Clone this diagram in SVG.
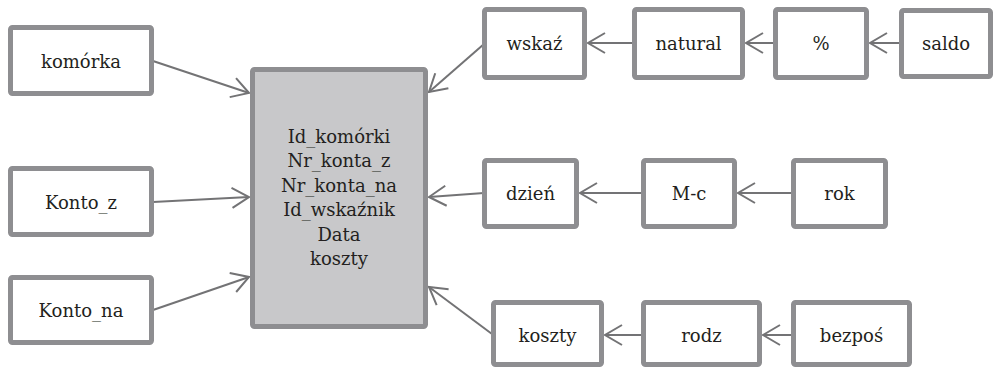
<svg xmlns="http://www.w3.org/2000/svg" width="994" height="369" viewBox="0 0 994 369">
  <defs>
    <style>
      .box { fill: #ffffff; stroke: #8e8e91; stroke-width: 5; }
      .main { fill: #c8c8ca; stroke: #8e8e91; stroke-width: 5; }
      .lbl { font-family: 'DejaVu Serif', 'Liberation Serif', serif; font-size: 18px; fill: #231f20; text-anchor: middle; }
      .edge { fill: none; stroke: #737375; stroke-width: 2; marker-end: url(#head); }
    </style>
    <!-- open chevron arrowhead -->
    <marker id="head" markerUnits="userSpaceOnUse" markerWidth="20" markerHeight="22" viewBox="-18 -11 20 22" refX="0" refY="0" orient="auto" overflow="visible">
      <path d="M-17,-10 L0,0 L-17,10" fill="none" stroke="#737375" stroke-width="2"/>
    </marker>
  </defs>

  <rect width="994" height="369" fill="#ffffff"/>

  <g id="connectors">
    <line class="edge" x1="153" y1="61" x2="249" y2="93"/>
    <line class="edge" x1="153" y1="202" x2="249" y2="197"/>
    <line class="edge" x1="153" y1="310" x2="249" y2="277"/>
    <line class="edge" x1="484" y1="44" x2="429" y2="92"/>
    <line class="edge" x1="484" y1="193" x2="429" y2="197"/>
    <line class="edge" x1="492" y1="334" x2="429" y2="287"/>
    <line class="edge" x1="632" y1="43" x2="588" y2="43"/>
    <line class="edge" x1="773" y1="43" x2="746" y2="43"/>
    <line class="edge" x1="899" y1="43" x2="870" y2="43"/>
    <line class="edge" x1="641" y1="193" x2="580" y2="193"/>
    <line class="edge" x1="791" y1="193" x2="738" y2="193"/>
    <line class="edge" x1="641" y1="335" x2="605" y2="335"/>
    <line class="edge" x1="791" y1="335" x2="763" y2="335"/>
  </g>

  <g id="node-main">
    <rect class="main" x="252.5" y="69.5" width="173" height="257" rx="2"/>
    <text class="lbl" x="339" y="143">Id_komórki</text>
    <text class="lbl" x="339" y="167.4">Nr_konta_z</text>
    <text class="lbl" x="339" y="191.8">Nr_konta_na</text>
    <text class="lbl" x="339" y="216.2">Id_wskaźnik</text>
    <text class="lbl" x="339" y="240.6">Data</text>
    <text class="lbl" x="339" y="265">koszty</text>
  </g>

  <g id="node-komorka">
    <rect class="box" x="10.5" y="27.5" width="141" height="66" rx="2"/>
    <text class="lbl" x="81" y="68">komórka</text>
  </g>
  <g id="node-konto-z">
    <rect class="box" x="10.5" y="168.5" width="141" height="66" rx="2"/>
    <text class="lbl" x="81" y="209">Konto_z</text>
  </g>
  <g id="node-konto-na">
    <rect class="box" x="10.5" y="277.5" width="141" height="65" rx="2"/>
    <text class="lbl" x="81" y="317">Konto_na</text>
  </g>

  <g id="node-wskaz">
    <rect class="box" x="484.5" y="9.5" width="100" height="68" rx="2"/>
    <text class="lbl" x="534.5" y="50">wskaź</text>
  </g>
  <g id="node-natural">
    <rect class="box" x="634.5" y="9.5" width="108" height="68" rx="2"/>
    <text class="lbl" x="688.5" y="50">natural</text>
  </g>
  <g id="node-procent">
    <rect class="box" x="775.5" y="9.5" width="91" height="68" rx="2"/>
    <text class="lbl" x="821" y="50">%</text>
  </g>
  <g id="node-saldo">
    <rect class="box" x="901.5" y="10.5" width="89" height="66" rx="2"/>
    <text class="lbl" x="946" y="50">saldo</text>
  </g>

  <g id="node-dzien">
    <rect class="box" x="484.5" y="160.5" width="92" height="66" rx="2"/>
    <text class="lbl" x="530.5" y="200">dzień</text>
  </g>
  <g id="node-mc">
    <rect class="box" x="643.5" y="160.5" width="91" height="66" rx="2"/>
    <text class="lbl" x="689" y="200">M-c</text>
  </g>
  <g id="node-rok">
    <rect class="box" x="793.5" y="160.5" width="92" height="66" rx="2"/>
    <text class="lbl" x="839.5" y="200">rok</text>
  </g>

  <g id="node-koszty">
    <rect class="box" x="493.5" y="302.5" width="108" height="62" rx="2"/>
    <text class="lbl" x="547.5" y="342">koszty</text>
  </g>
  <g id="node-rodz">
    <rect class="box" x="643.5" y="302.5" width="116" height="62" rx="2"/>
    <text class="lbl" x="701.5" y="342">rodz</text>
  </g>
  <g id="node-bezpos">
    <rect class="box" x="793.5" y="302.5" width="116" height="62" rx="2"/>
    <text class="lbl" x="851.5" y="342">bezpoś</text>
  </g>
</svg>
